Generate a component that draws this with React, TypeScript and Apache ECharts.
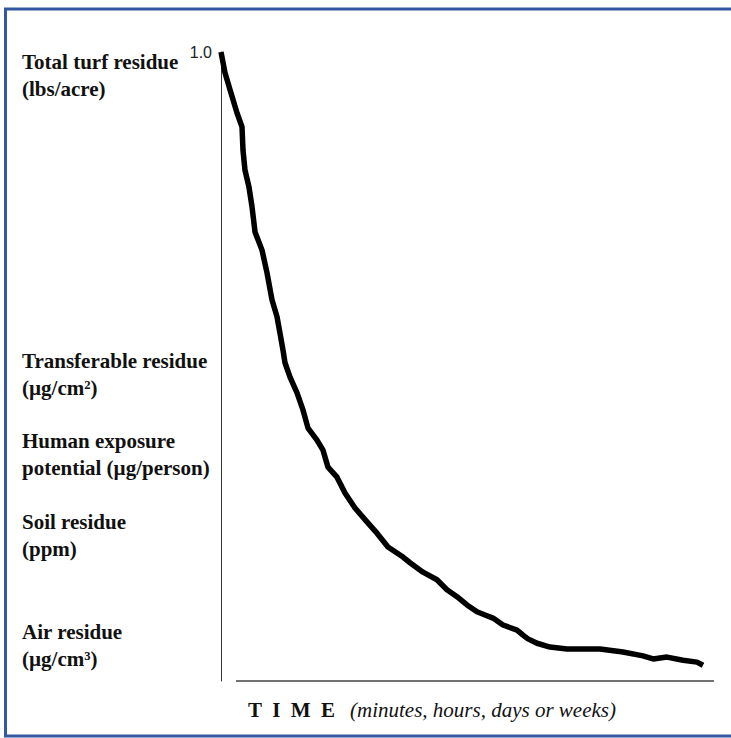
import React, { useEffect, useRef } from "react";
import * as echarts from "echarts";

// ---- data (time in arbitrary units 0..100, residue relative 0..1) ----
const timeValues = [
  0, 0.81, 1.83, 3.25, 4.26, 4.46, 4.87, 5.68, 6.29, 6.9, 8.32, 9.33, 10.34, 11.36, 11.97,
  12.58, 12.98, 14.0, 15.42, 16.63, 17.65, 19.47, 20.69, 21.7, 23.53, 25.15, 27.18, 29.61,
  31.64, 33.87, 36.92, 38.34, 40.97, 43.81, 45.84, 47.87, 49.9, 51.93, 53.55, 55.17, 57.2,
  60.04, 61.26, 62.27, 64.1, 66.73, 70.18, 76.88, 81.54, 85.6, 87.63, 90.47, 93.71, 96.55, 97.77,
];
const residueValues = [
  1.0, 0.967, 0.94, 0.903, 0.881, 0.844, 0.812, 0.785, 0.754, 0.714, 0.685, 0.649, 0.606, 0.579,
  0.553, 0.526, 0.506, 0.483, 0.458, 0.431, 0.402, 0.383, 0.367, 0.34, 0.324, 0.299, 0.275,
  0.253, 0.235, 0.213, 0.197, 0.188, 0.173, 0.161, 0.145, 0.134, 0.121, 0.11, 0.105, 0.1, 0.089,
  0.081, 0.073, 0.067, 0.06, 0.054, 0.051, 0.051, 0.046, 0.04, 0.035, 0.038, 0.033, 0.03, 0.025,
];
const yTickLabels = ["1.0"];
const residueLabels = [
  ["Total turf residue", "(lbs/acre)"],
  ["Transferable residue", "(µg/cm²)"],
  ["Human exposure", "potential (µg/person)"],
  ["Soil residue", "(ppm)"],
  ["Air residue", "(µg/cm³)"],
];
const xAxisTitle = "T  I  M  E";
const xAxisNote = "(minutes, hours, days or weeks)";

// ---- layout (pixels) ----
const labelCentres = [62, 361, 441, 522, 632];
const LINE_H = 27;
const SERIF = '"Palatino Linotype", "Book Antiqua", Palatino, "Liberation Serif", serif';

export default function App() {
  const ref = useRef<HTMLDivElement>(null);
  useEffect(() => {
    if (!ref.current) return;
    const chart = echarts.init(ref.current, undefined, { renderer: "svg" });
    const graphics: any[] = [
      {
        type: "rect",
        shape: { x: 5.5, y: 9, width: 740, height: 727 },
        style: { fill: "none", stroke: "#3457a3", lineWidth: 3 },
        silent: true,
      },
      {
        type: "line",
        shape: { x1: 236, y1: 681, x2: 714, y2: 681 },
        style: { stroke: "#444", lineWidth: 1.5 },
        silent: true,
      },
      {
        type: "text",
        x: 248,
        y: 710,
        style: {
          text: xAxisTitle,
          fontFamily: SERIF,
          fontWeight: "bold",
          fontSize: 21,
          fill: "#111",
          verticalAlign: "middle",
        },
      },
      {
        type: "text",
        x: 350,
        y: 710,
        style: {
          text: xAxisNote,
          fontFamily: SERIF,
          fontStyle: "italic",
          fontSize: 21,
          fill: "#111",
          verticalAlign: "middle",
        },
      },
    ];
    residueLabels.forEach((lines, i) => {
      graphics.push({
        type: "text",
        x: 22,
        y: labelCentres[i] - LINE_H / 2,
        style: {
          text: lines.join("\n"),
          fontFamily: SERIF,
          fontWeight: "bold",
          fontSize: 21,
          lineHeight: LINE_H,
          fill: "#111",
          verticalAlign: "top",
        },
      });
    });

    chart.setOption({
      animation: false,
      grid: { left: 221, right: 17, top: 52, bottom: 57 },
      xAxis: {
        type: "value",
        min: 0,
        max: 100,
        axisLine: { show: false },
        axisTick: { show: false },
        axisLabel: { show: false },
        splitLine: { show: false },
      },
      yAxis: {
        type: "value",
        min: 0,
        max: 1,
        interval: 1,
        axisLine: { show: true, onZero: false, lineStyle: { color: "#333", width: 1 } },
        axisTick: { show: false },
        splitLine: { show: false },
        axisLabel: {
          formatter: (v: number) => (v === 1 ? yTickLabels[0] : ""),
          fontFamily: '"Liberation Sans", Arial, sans-serif',
          fontSize: 16,
          color: "#222",
          margin: 9,
          verticalAlign: "middle",
          padding: [0, 0, 8, 0],
        },
      },
      series: [
        {
          type: "line",
          data: timeValues.map((t, i) => [t, residueValues[i]]),
          showSymbol: false,
          silent: true,
          lineStyle: { color: "#000", width: 5.5, join: "round" },
        },
      ],
      graphic: graphics,
    });
    return () => chart.dispose();
  }, []);
  return (
    <div
      ref={ref}
      style={{ position: "fixed", left: 0, top: 0, width: 731, height: 738, background: "#fff" }}
    />
  );
}
